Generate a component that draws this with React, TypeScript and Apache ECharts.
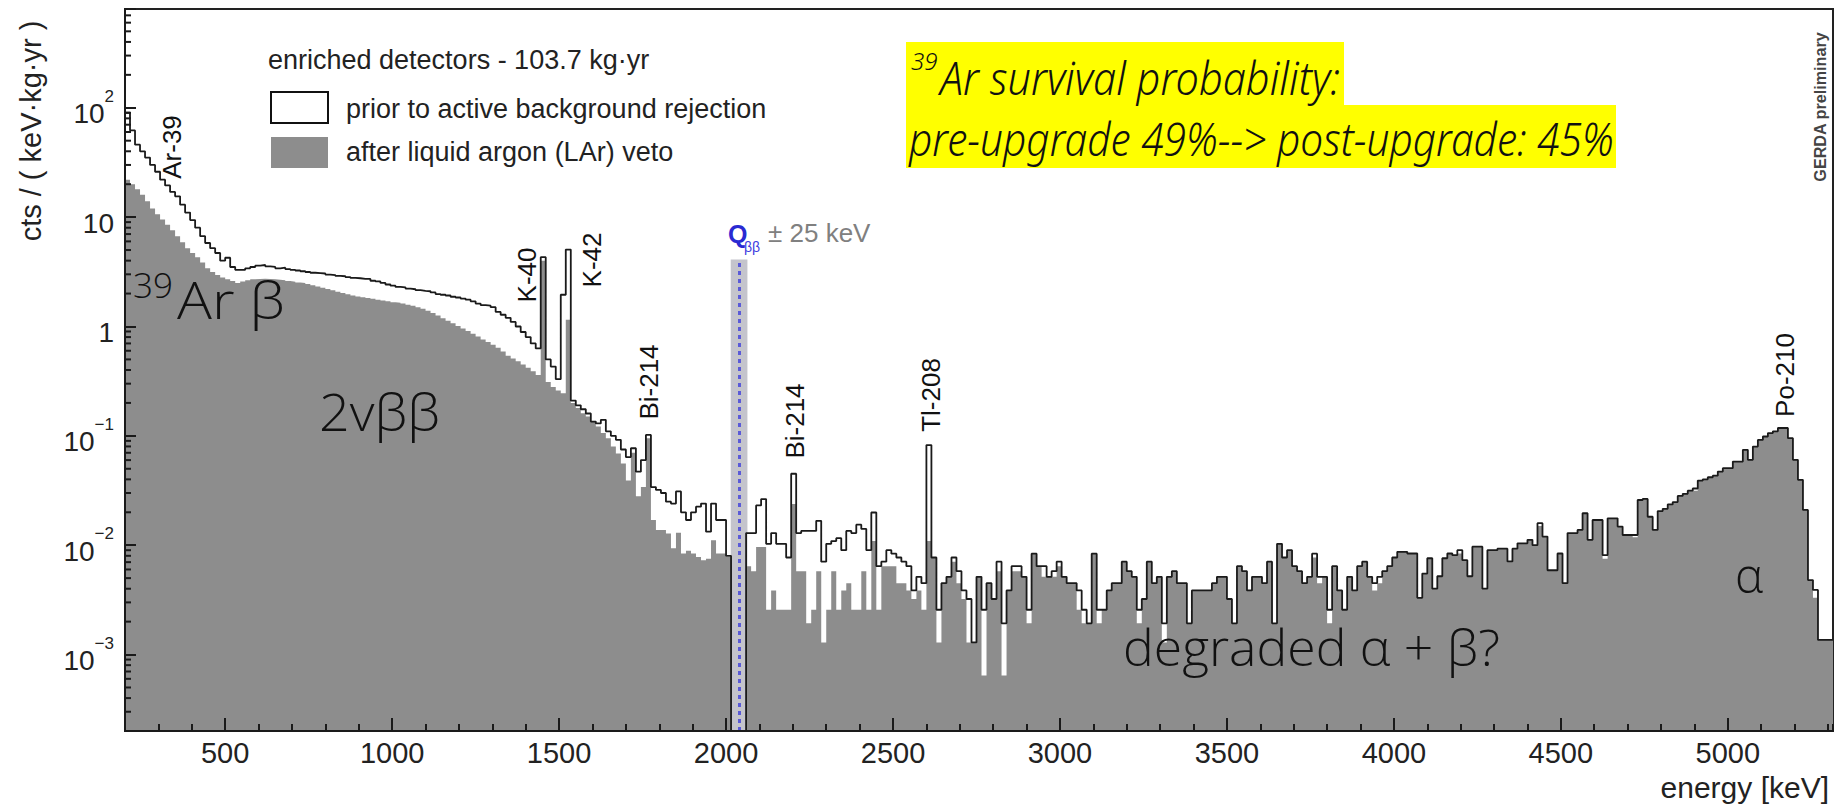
import React, { useEffect, useRef } from "react";
import * as echarts from "echarts";

const SANS = "'Liberation Sans', Arial, Helvetica, sans-serif";
const HAND = "'Noto Sans', 'DejaVu Sans', sans-serif";
const GEO = "'Open Sans', Lato, 'DejaVu Sans', sans-serif";

const ENERGY_START = 200; // keV, first bin edge
const BIN_WIDTH = 15; // keV
const ENERGY_END = 5315;
const Y_MIN = 2e-4;
const Y_MAX = 800;
const NO_DATA = 1e-9; // blinded bins: below the axis, clipped away
const X_MAJOR = [500, 1000, 1500, 2000, 2500, 3000, 3500, 4000, 4500, 5000];
const Q_BB = 2039;
const Q_WINDOW = 25;
const Q_BAND_TOP = 4.1;

// cts / (keV kg yr), 15 keV bins starting at 200 keV
// 200 - 1025 keV
const priorA = [90, 62, 46, 40, 35, 30, 26, 22, 19.5, 17,
  15.5, 13, 11, 9.4, 8.0, 6.7, 5.8, 5.2, 4.7, 4.0,
  4.25, 3.5, 3.3, 3.3, 3.4, 3.5, 3.6, 3.65, 3.55, 3.5,
  3.4, 3.45, 3.35, 3.3, 3.25, 3.2, 3.15, 3.1, 3.08, 3.05,
  2.98, 2.95, 2.9, 2.88, 2.83, 2.78, 2.76, 2.72, 2.72, 2.62,
  2.58, 2.5, 2.42, 2.36, 2.3];
const larA = [22, 20, 18, 16, 14, 12, 10.6, 9.5, 8.5, 7.6,
  6.7, 5.9, 5.2, 4.7, 4.3, 3.85, 3.4, 3.15, 2.95, 2.8,
  2.7, 2.6, 2.5, 2.58, 2.65, 2.7, 2.72, 2.73, 2.72, 2.7,
  2.68, 2.65, 2.6, 2.57, 2.53, 2.5, 2.45, 2.38, 2.32, 2.26,
  2.2, 2.15, 2.08, 2.02, 1.97, 1.92, 1.88, 1.85, 1.82, 1.79,
  1.76, 1.73, 1.70, 1.67, 1.65];
// 1025 - 2015 keV
const priorB = [2.28, 2.22, 2.19, 2.15, 2.12, 2.10, 2.05, 1.98, 1.95, 1.92,
  1.87, 1.84, 1.80, 1.76, 1.70, 1.62, 1.57, 1.55, 1.50, 1.36,
  1.28, 1.20, 1.10, 1.00, 0.89, 0.80, 0.70, 0.63, 4.3, 0.50,
  0.43, 0.33, 1.95, 5.05, 0.21, 0.19, 0.175, 0.16, 0.135, 0.13,
  0.14, 0.11, 0.10, 0.092, 0.075, 0.064, 0.077, 0.047, 0.06, 0.102,
  0.034, 0.032, 0.030, 0.025, 0.024, 0.031, 0.020, 0.017, 0.020, 0.0225,
  0.024, 0.0133, 0.024, 0.017, 0.017, 0.0080];
const larB = [1.62, 1.58, 1.55, 1.50, 1.45, 1.39, 1.33, 1.26, 1.19, 1.13,
  1.07, 1.01, 0.96, 0.91, 0.86, 0.81, 0.76, 0.72, 0.68, 0.64,
  0.59, 0.54, 0.51, 0.48, 0.45, 0.42, 0.39, 0.36, 4.0, 0.31,
  0.28, 0.26, 0.245, 1.15, 0.20, 0.18, 0.161, 0.150, 0.135, 0.122,
  0.106, 0.095, 0.080, 0.069, 0.056, 0.039, 0.07, 0.028, 0.034, 0.095,
  0.017, 0.0138, 0.0138, 0.0128, 0.0094, 0.013, 0.0084, 0.0089, 0.0084, 0.0078,
  0.0073, 0.0075, 0.0111, 0.0084, 0.0084, 0.0078];
// 2015 - 2060 keV: blinded window (no data)
const blinded = [0, 0, 0];
// 2060 - 3005 keV
const priorC = [0.0129, 0.0129, 0.0231, 0.0264, 0.0103, 0.0129, 0.0103, 0.0103, 0.00772, 0.045,
  0.0129, 0.0135, 0.0135, 0.0135, 0.0167, 0.00707, 0.0103, 0.0109, 0.0116, 0.009,
  0.0135, 0.0129, 0.0154, 0.0141, 0.009, 0.0199, 0.00643, 0.00707, 0.009, 0.00836,
  0.00772, 0.00707, 0.00643, 0.00386, 0.00514, 0.0045, 0.0823, 0.00772, 0.00257, 0.0045,
  0.00514, 0.00772, 0.00579, 0.00386, 0.00322, 0.00129, 0.00514, 0.00257, 0.0045, 0.00322,
  0.00707, 0.00193, 0.00386, 0.00643, 0.00643, 0.00514, 0.00257, 0.00836, 0.00643, 0.00643,
  0.00514, 0.00579, 0.00707];
const larC = [0.00643, 0.00579, 0.00965, 0.00965, 0.00257, 0.00386, 0.00257, 0.00257, 0.00257, 0.0238,
  0.00579, 0.00579, 0.00193, 0.00257, 0.00579, 0.00129, 0.00257, 0.00579, 0.00257, 0.00386,
  0.0045, 0.00257, 0.00257, 0.00579, 0.00257, 0.0109, 0.00257, 0.00643, 0.00643, 0.00643,
  0.0045, 0.0045, 0.00386, 0.00322, 0.00386, 0.00257, 0.0109, 0.00772, 0.00129, 0.0045,
  0.00514, 0.00707, 0.0045, 0.00322, 0.00129, 0.00129, 0.00514, 0.000643, 0.0045, 0.00322,
  0.00579, 0.000643, 0.00386, 0.00579, 0.00579, 0.00514, 0.00193, 0.00836, 0.00643, 0.00514,
  0.00514, 0.00514, 0.00643];
// 3005 - 4010 keV
const priorD = [0.00514, 0.0045, 0.0045, 0.00386, 0.00257, 0.00193, 0.00836, 0.00257, 0.00257, 0.00386,
  0.0045, 0.0045, 0.00707, 0.00579, 0.00514, 0.00257, 0.00322, 0.00707, 0.0045, 0.00514,
  0.00193, 0.00514, 0.00579, 0.0045, 0.0045, 0.00193, 0.00386, 0.00386, 0.00386, 0.00386,
  0.0045, 0.00514, 0.00514, 0.00322, 0.00193, 0.00643, 0.00579, 0.00386, 0.00514, 0.00514,
  0.0045, 0.00707, 0.00193, 0.0103, 0.00772, 0.009, 0.00643, 0.00579, 0.0045, 0.00514,
  0.00836, 0.00514, 0.00514, 0.00257, 0.00643, 0.00386, 0.00257, 0.00514, 0.00386, 0.00643,
  0.00707, 0.00514, 0.0045, 0.00514, 0.00579, 0.00643, 0.00772];
const larD = [0.00514, 0.0045, 0.0045, 0.00257, 0.00193, 0.00193, 0.00836, 0.00193, 0.00257, 0.00386,
  0.0045, 0.0045, 0.00707, 0.00579, 0.00514, 0.00193, 0.00322, 0.00707, 0.0045, 0.00514,
  0.00129, 0.00514, 0.00579, 0.0045, 0.0045, 0.00193, 0.00386, 0.00386, 0.00386, 0.00386,
  0.0045, 0.00514, 0.00514, 0.00322, 0.00193, 0.00643, 0.00579, 0.00386, 0.00514, 0.00514,
  0.0045, 0.00707, 0.00193, 0.0103, 0.00772, 0.009, 0.00643, 0.00579, 0.0045, 0.00514,
  0.00772, 0.0045, 0.00514, 0.00193, 0.00643, 0.00386, 0.00257, 0.00514, 0.00386, 0.00643,
  0.00707, 0.00514, 0.00386, 0.0045, 0.00579, 0.00643, 0.00772];
// 4010 - 5315 keV
const priorE = [0.0087, 0.0087, 0.0084, 0.0084, 0.0033, 0.0055, 0.0076, 0.0040, 0.0052, 0.0076,
  0.0084, 0.0081, 0.0090, 0.0073, 0.0052, 0.0097, 0.0097, 0.0040, 0.0090, 0.0090,
  0.0093, 0.0093, 0.0071, 0.0093, 0.0104, 0.0104, 0.0112, 0.0100, 0.0159, 0.0120,
  0.0059, 0.0059, 0.0084, 0.0045, 0.0129, 0.0129, 0.0138, 0.0196, 0.0112, 0.0170,
  0.0170, 0.0081, 0.0176, 0.0176, 0.0148, 0.0124, 0.0124, 0.0124, 0.0259, 0.0265,
  0.0182, 0.0138, 0.0205, 0.0215, 0.0236, 0.0248, 0.0282, 0.0295, 0.0315, 0.0330,
  0.0390, 0.0400, 0.0418, 0.0432, 0.0471, 0.0506, 0.0506, 0.0582, 0.0582, 0.0745,
  0.0603, 0.0798, 0.0918, 0.0986, 0.106, 0.110, 0.118, 0.118, 0.0953, 0.0603,
  0.0396, 0.0210, 0.0048, 0.0039, 0.00136, 0.00136, 0.00136];
const larE = [0.0087, 0.0087, 0.0084, 0.0084, 0.0033, 0.0055, 0.0076, 0.0040, 0.0052, 0.0076,
  0.0084, 0.0081, 0.0084, 0.0073, 0.0052, 0.0097, 0.0097, 0.0040, 0.0090, 0.0090,
  0.0093, 0.0093, 0.0071, 0.0093, 0.0104, 0.0104, 0.0112, 0.0100, 0.0150, 0.0120,
  0.0059, 0.0059, 0.0084, 0.0045, 0.0129, 0.0129, 0.0138, 0.0196, 0.0112, 0.0170,
  0.0170, 0.0075, 0.0176, 0.0176, 0.0148, 0.0124, 0.0124, 0.0118, 0.0259, 0.0265,
  0.0182, 0.0138, 0.0205, 0.0215, 0.0236, 0.0248, 0.0282, 0.0295, 0.0315, 0.0315,
  0.0390, 0.0400, 0.0418, 0.0432, 0.0471, 0.0506, 0.0506, 0.0582, 0.0582, 0.0745,
  0.0603, 0.0798, 0.0918, 0.0986, 0.106, 0.110, 0.118, 0.118, 0.0953, 0.0603,
  0.0396, 0.0210, 0.0048, 0.0033, 0.00136, 0.00136, 0.00136];

const priorValues = [...priorA, ...priorB, ...blinded, ...priorC, ...priorD, ...priorE];
const larValues = [...larA, ...larB, ...blinded, ...larC, ...larD, ...larE];

const PEAK_LABELS = [
  { text: "Ar-39", x: 172, y: 147 },
  { text: "K-40", x: 527, y: 275 },
  { text: "K-42", x: 592, y: 260 },
  { text: "Bi-214", x: 649, y: 382 },
  { text: "Bi-214", x: 795, y: 421 },
  { text: "Tl-208", x: 931, y: 395 },
  { text: "Po-210", x: 1785, y: 375 },
];

function toSteps(values: number[]) {
  const pts: number[][] = values.map((v, i) => [ENERGY_START + i * BIN_WIDTH, v > 0 ? v : NO_DATA]);
  pts.push([ENERGY_START + values.length * BIN_WIDTH, values[values.length - 1]]);
  return pts;
}

let measureCtx: CanvasRenderingContext2D | null = null;
function fitScale(text: string, size: number, family: string, target: number, weight = "normal", style = "normal") {
  if (!measureCtx) measureCtx = document.createElement("canvas").getContext("2d");
  if (!measureCtx) return 1;
  measureCtx.font = `${style} ${weight} ${size}px ${family}`;
  const w = measureCtx.measureText(text).width;
  return w > 0 ? target / w : 1;
}

function textEl(x: number, y: number, text: string, o: any = {}) {
  const align = o.align || "left";
  const va = o.verticalAlign || "middle";
  return {
    type: "text",
    x,
    y,
    rotation: o.rotation || 0,
    scaleX: o.scaleX ?? 1,
    z: 100,
    silent: true,
    style: {
      text,
      fill: o.fill || "#111",
      fontSize: o.fontSize || 26,
      fontFamily: o.fontFamily || SANS,
      fontWeight: o.fontWeight || "normal",
      fontStyle: o.fontStyle || "normal",
      align,
      verticalAlign: va,
      textAlign: align,
      textVerticalAlign: va,
    },
  };
}

function buildGraphic() {
  const g: any[] = [];
  // legend
  g.push(textEl(268, 60, "enriched detectors - 103.7 kg\u00b7yr", { fontSize: 27, fill: "#222" }));
  g.push({ type: "rect", z: 100, silent: true, shape: { x: 271, y: 92, width: 57, height: 31 }, style: { fill: "#fff", stroke: "#111", lineWidth: 2 } });
  g.push({ type: "rect", z: 100, silent: true, shape: { x: 271, y: 137, width: 57, height: 31 }, style: { fill: "#8d8d8d" } });
  g.push(textEl(346, 109, "prior to active background rejection", { fontSize: 27, fill: "#222" }));
  g.push(textEl(346, 152, "after liquid argon (LAr) veto", { fontSize: 27, fill: "#222" }));

  // axis titles
  g.push(textEl(31, 131, "cts / ( keV\u00b7kg\u00b7yr )", { fontSize: 29, fill: "#222", align: "center", rotation: Math.PI / 2 }));
  g.push(textEl(1829, 787, "energy [keV]", { fontSize: 30, fill: "#222", align: "right" }));

  // peak labels
  PEAK_LABELS.forEach((p) => g.push(textEl(p.x, p.y, p.text, { fontSize: 26, align: "center", rotation: Math.PI / 2 })));

  // Q_bb label
  g.push(textEl(728, 234, "Q", { fontSize: 25, fill: "#2a2ad2", fontWeight: "bold" }));
  g.push(textEl(744, 247, "\u03b2\u03b2", { fontSize: 14, fill: "#3c3ce0" }));
  g.push(textEl(768, 233, "\u00b1 25 keV", { fontSize: 26, fill: "#808080" }));

  // GERDA preliminary
  g.push(textEl(1820, 107, "GERDA preliminary", {
    fontSize: 17, fill: "#444", fontWeight: "bold", align: "center", rotation: Math.PI / 2,
    scaleX: fitScale("GERDA preliminary", 17, SANS, 150, "bold"),
  }));

  // yellow highlighted note
  g.push({ type: "rect", z: 90, silent: true, shape: { x: 906, y: 42, width: 438, height: 63 }, style: { fill: "#ffff00" } });
  g.push({ type: "rect", z: 90, silent: true, shape: { x: 906, y: 105, width: 710, height: 63 }, style: { fill: "#ffff00" } });
  g.push(textEl(911, 60, "39", { fontSize: 24, fontFamily: HAND, fontStyle: "italic", fontWeight: 300 }));
  const l1 = "Ar survival probability:";
  g.push(textEl(940, 77, l1, { fontSize: 46, fontFamily: HAND, fontStyle: "italic", fontWeight: 300, scaleX: fitScale(l1, 46, HAND, 400, "300", "italic") }));
  const l2 = "pre-upgrade 49%--> post-upgrade: 45%";
  g.push(textEl(909, 139, l2, { fontSize: 46, fontFamily: HAND, fontStyle: "italic", fontWeight: 300, scaleX: fitScale(l2, 46, HAND, 705, "300", "italic") }));

  // overlay annotations
  g.push(textEl(133, 285, "39", { fontSize: 34, fontFamily: GEO, fontWeight: 300, scaleX: fitScale("39", 34, GEO, 40, "300") }));
  g.push(textEl(177, 299, "Ar \u03b2", { fontSize: 52, fontFamily: GEO, fontWeight: 300, scaleX: fitScale("Ar \u03b2", 52, GEO, 108, "300") }));
  g.push(textEl(319, 411, "2v\u03b2\u03b2", { fontSize: 52, fontFamily: GEO, fontWeight: 300, scaleX: fitScale("2v\u03b2\u03b2", 52, GEO, 121, "300") }));
  const dg = "degraded \u03b1 + \u03b2?";
  g.push(textEl(1123, 647, dg, { fontSize: 50, fontFamily: GEO, fontWeight: 300, scaleX: fitScale(dg, 50, GEO, 377, "300") }));
  g.push(textEl(1735, 574, "\u03b1", { fontSize: 50, fontFamily: GEO, fontWeight: 300, scaleX: fitScale("\u03b1", 50, GEO, 28, "300") }));
  return g;
}

const MINOR_Y: number[] = [];
for (let e = -4; e <= 2; e++) {
  for (let m = 2; m <= 9; m++) {
    const v = m * Math.pow(10, e);
    if (v > Y_MIN * 1.0001 && v < Y_MAX) MINOR_Y.push(v);
  }
}

const SUP: Record<string, string> = { "-": "\u2212" };

function yLabel(v: number) {
  const l = Math.log10(v);
  const e = Math.round(l);
  if (Math.abs(l - e) > 1e-6) return "";
  if (e === 0) return "{b|1}";
  if (e === 1) return "{b|10}";
  const s = String(e).split("").map((c) => SUP[c] || c).join("");
  return `{b|10}{s|${s}}`;
}

function buildOption() {
  const axisColor = "#1a1a1a";
  return {
    animation: false,
    textStyle: { fontFamily: SANS },
    grid: { left: 125, top: 9, right: 2, bottom: 78, show: true, borderColor: "#222", borderWidth: 2, backgroundColor: "transparent" },
    xAxis: [
      {
        type: "value", min: ENERGY_START, max: ENERGY_END, position: "bottom", z: 10,
        axisLine: { show: true, onZero: false, lineStyle: { color: axisColor, width: 2 } },
        axisTick: { show: true, inside: true, length: 13, customValues: X_MAJOR, lineStyle: { color: axisColor, width: 2 } },
        axisLabel: { show: true, customValues: X_MAJOR, margin: 7, color: "#222", fontSize: 29, fontFamily: SANS, formatter: (v: number) => String(v) },
        splitLine: { show: false },
      },
      {
        type: "value", min: ENERGY_START, max: ENERGY_END, interval: 100, position: "bottom", z: 10,
        axisLine: { show: false, onZero: false },
        axisTick: { show: true, inside: true, length: 7, lineStyle: { color: axisColor, width: 2 } },
        axisLabel: { show: false },
        splitLine: { show: false },
      },
    ],
    yAxis: [
      {
        type: "log", logBase: 10, min: Y_MIN, max: Y_MAX, z: 10,
        axisLine: { show: true, onZero: false, lineStyle: { color: axisColor, width: 2 } },
        axisTick: { show: true, inside: true, length: 11, lineStyle: { color: axisColor, width: 2 } },
        axisLabel: {
          show: true, margin: 11, color: "#222", fontSize: 28, fontFamily: SANS,
          formatter: yLabel,
          rich: {
            b: { fontSize: 28, fontFamily: SANS, color: "#222", lineHeight: 40, verticalAlign: "bottom" },
            s: { fontSize: 17, fontFamily: SANS, color: "#222", lineHeight: 18, verticalAlign: "top" },
          },
        },
        splitLine: { show: false },
      },
    ],
    series: [
      {
        name: "after liquid argon (LAr) veto", type: "line", step: "end", z: 2, silent: true,
        symbol: "none", showSymbol: false, clip: true,
        data: toSteps(larValues),
        lineStyle: { width: 0, color: "#8d8d8d" },
        areaStyle: { color: "#8d8d8d", opacity: 1, origin: "start" },
      },
      {
        name: "Qbb window", type: "line", z: 3, silent: true, data: [],
        markArea: {
          silent: true, itemStyle: { color: "#c4c4cc", opacity: 1 },
          data: [[{ xAxis: Q_BB - Q_WINDOW, yAxis: Y_MIN }, { xAxis: Q_BB + Q_WINDOW, yAxis: Q_BAND_TOP }]],
        },
        markLine: {
          silent: true, symbol: ["none", "none"], label: { show: false },
          lineStyle: { color: "#5a5ad8", width: 3, type: [4, 4] },
          data: [[{ coord: [Q_BB, Y_MIN] }, { coord: [Q_BB, Q_BAND_TOP] }]],
        },
      },
      {
        name: "prior to active background rejection", type: "line", step: "end", z: 4, silent: true,
        symbol: "none", showSymbol: false, clip: true,
        data: toSteps(priorValues),
        lineStyle: { width: 1.8, color: "#1a1a1a" },
      },
      {
        name: "minor y ticks", type: "custom", z: 11, silent: true, clip: false,
        data: MINOR_Y.map((v) => [ENERGY_START, v]),
        encode: { x: 0, y: 1 },
        renderItem: (_p: any, api: any) => {
          const pt = api.coord([ENERGY_START, api.value(1)]);
          return { type: "line", shape: { x1: pt[0], y1: pt[1], x2: pt[0] + 6, y2: pt[1] }, style: { stroke: axisColor, lineWidth: 2 } };
        },
      },
    ],
  };
}

export default function App() {
  const ref = useRef<HTMLDivElement>(null);
  useEffect(() => {
    if (!ref.current) return;
    const chart = echarts.init(ref.current, null, { renderer: "svg" });
    const option: any = buildOption();
    option.graphic = { elements: buildGraphic() };
    chart.setOption(option);
    return () => chart.dispose();
  }, []);
  return <div ref={ref} style={{ position: "absolute", left: 0, top: 0, width: 1835, height: 809, background: "#fff" }} />;
}
